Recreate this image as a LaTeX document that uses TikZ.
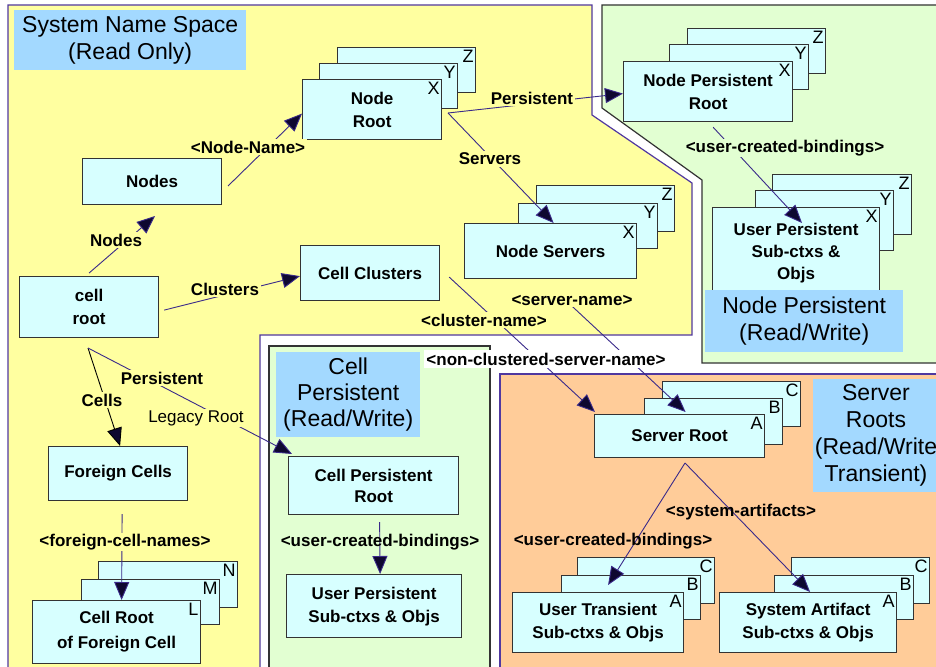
\documentclass[tikz,border=0pt]{standalone}
\usepackage{fontspec}
\setmainfont{Liberation Sans}
\usetikzlibrary{arrows.meta,calc}
\definecolor{yel}{HTML}{FFFFA0}
\definecolor{cy}{HTML}{D7FFFF}
\definecolor{lbl}{HTML}{A3D9FF}
\definecolor{grn}{HTML}{E2FFD2}
\definecolor{org}{HTML}{FFCC99}
\definecolor{pur}{HTML}{5038A0}
\definecolor{edge}{HTML}{3A2A8A}
\definecolor{bord}{HTML}{333333}
\definecolor{tipc}{HTML}{0E0830}
\begin{document}
\begin{tikzpicture}[x=1pt,y=-1pt,
  box/.style={draw=bord,fill=cy,line width=1.2pt,anchor=north west,inner sep=2pt,align=center,font=\fontsize{17}{23}\bfseries\selectfont},
  tag/.style={anchor=north east,inner sep=2.5pt,font=\fontsize{18}{20}\selectfont},
  conn/.style={draw=edge,line width=0.9pt,-{Triangle[length=18pt,width=15pt,fill=tipc]}},
  lab/.style={font=\fontsize{17}{20}\bfseries\selectfont,inner sep=1.5pt,fill=yel},
  title/.style={fill=lbl,anchor=north west,inner sep=0pt,align=center,font=\fontsize{23}{27}\selectfont}]
\useasboundingbox (0,0) rectangle (936,666);
\clip (0,0) rectangle (936,666);
\fill[white] (0,0) rectangle (936,666);
% regions
\draw[fill=yel,draw=pur,line width=1.2pt] (8,5) -- (592,5) -- (592,115) -- (692,183) -- (692,335) -- (260,335) -- (260,680) -- (8,680) -- cycle;
\draw[fill=grn,draw=bord,line width=1.2pt] (602,5) -- (950,5) -- (950,363) -- (702,363) -- (702,180) -- (602,108) -- cycle;
\draw[fill=grn,draw=bord,line width=1.2pt] (269,346) rectangle (490,680);
\draw[fill=org,draw=pur,line width=1.2pt] (500,374) rectangle (950,680);
% boxes
\node[box,minimum width=138pt,minimum height=45pt] (NRz) at (337,47) {};
\node[tag] at (NRz.north east) {Z};
\node[box,minimum width=138pt,minimum height=45pt] (NRy) at (319,63) {};
\node[tag] at (NRy.north east) {Y};
\node[box,minimum width=139pt,minimum height=60pt] (NR) at (302,79) {Node\\Root};
\node[tag] at (NR.north east) {X};
\node[box,minimum width=139pt,minimum height=46pt] (Nodes) at (82,158) {Nodes};
\node[box,minimum width=139pt,minimum height=61pt] (cellroot) at (19,276) {cell\\root};
\node[box,minimum width=139pt,minimum height=55pt] (CC) at (300,245) {Cell Clusters};
\node[box,minimum width=138pt,minimum height=46pt] (NSz) at (536,185) {};
\node[tag] at (NSz.north east) {Z};
\node[box,minimum width=139pt,minimum height=45pt] (NSy) at (518,203) {};
\node[tag] at (NSy.north east) {Y};
\node[box,minimum width=172pt,minimum height=55pt] (NS) at (464,223) {Node Servers};
\node[tag] at (NS.north east) {X};
\node[box,minimum width=138pt,minimum height=45pt] (NPz) at (687,28) {};
\node[tag] at (NPz.north east) {Z};
\node[box,minimum width=139pt,minimum height=45pt] (NPy) at (669,44) {};
\node[tag] at (NPy.north east) {Y};
\node[box,minimum width=169pt,minimum height=60pt] (NP) at (623,61) {Node Persistent\\Root};
\node[tag] at (NP.north east) {X};
\node[box,minimum width=139pt,minimum height=60pt] (UPz) at (772,174) {};
\node[tag] at (UPz.north east) {Z};
\node[box,minimum width=138pt,minimum height=60pt] (UPy) at (755,190) {};
\node[tag] at (UPy.north east) {Y};
\node[box,minimum width=167pt,minimum height=92pt,font=\fontsize{17}{22}\bfseries\selectfont] (UP) at (712,207) {User Persistent\\Sub-ctxs \&\\Objs};
\node[tag] at (UP.north east) {X};
\node[box,minimum width=139pt,minimum height=54pt] (FC) at (48,446) {Foreign Cells};
\node[box,minimum width=139pt,minimum height=46pt] (CFn) at (98,561) {};
\node[tag] at (CFn.north east) {N};
\node[box,minimum width=138pt,minimum height=45pt] (CFm) at (81,579) {};
\node[tag] at (CFm.north east) {M};
\node[box,minimum width=168pt,minimum height=63pt,font=\fontsize{17}{25}\bfseries\selectfont] (CF) at (32,600) {Cell Root\\of Foreign Cell};
\node[tag] at (CF.north east) {L};
\node[box,minimum width=170pt,minimum height=58pt,font=\fontsize{17}{21}\bfseries\selectfont] (CPR) at (288,456) {Cell Persistent\\Root};
\node[box,minimum width=175pt,minimum height=63pt] (UPC) at (286,574) {User Persistent\\Sub-ctxs \& Objs};
\node[box,minimum width=138pt,minimum height=45pt] (SRc) at (662,381) {};
\node[tag] at (SRc.north east) {C};
\node[box,minimum width=138pt,minimum height=46pt] (SRb) at (644,398) {};
\node[tag] at (SRb.north east) {B};
\node[box,minimum width=170pt,minimum height=43pt] (SR) at (594,414) {Server Root};
\node[tag] at (SR.north east) {A};
\node[box,minimum width=137pt,minimum height=46pt] (UTc) at (577,557) {};
\node[tag] at (UTc.north east) {C};
\node[box,minimum width=139pt,minimum height=44pt] (UTb) at (561,575) {};
\node[tag] at (UTb.north east) {B};
\node[box,minimum width=171pt,minimum height=60pt] (UT) at (512,592) {User Transient\\Sub-ctxs \& Objs};
\node[tag] at (UT.north east) {A};
\node[box,minimum width=138pt,minimum height=46pt] (SAc) at (791,557) {};
\node[tag] at (SAc.north east) {C};
\node[box,minimum width=139pt,minimum height=44pt] (SAb) at (774,575) {};
\node[tag] at (SAb.north east) {B};
\node[box,minimum width=177pt,minimum height=60pt] (SA) at (719,592) {System Artifact\\Sub-ctxs \& Objs};
\node[tag] at (SA.north east) {A};
% free coordinates
\coordinate (nodesTip) at (155,216);
\coordinate (nodesOut) at (228,186);
\coordinate (nrOut) at (448,113);
\coordinate (upTip) at (802,223);
\coordinate (srvStart) at (560,295);
\coordinate (crOut) at (88,348);
\coordinate (srOut) at (685,463);
% connectors
\draw[conn] ([yshift=3pt]cellroot.north) -- (nodesTip);
\draw[conn] (nodesOut) -- ([yshift=-4pt]NR.west);
\draw[conn] ([xshift=5pt,yshift=-3pt]cellroot.east) -- ([yshift=-3pt]CC.west);
\draw[conn] (nrOut) -- ([yshift=-2pt]NP.west);
\draw[conn] (nrOut) -- ([xshift=3pt]NS.north);
\draw[conn] ([xshift=5pt,yshift=-5pt]NP.south) -- (upTip);
\draw[conn] ([xshift=9pt,yshift=-4pt]CC.east) -- ([xshift=1pt,yshift=2pt]SR.north west);
\draw[conn] (srvStart) -- ([xshift=6pt,yshift=2pt]SR.north);
\draw[conn,draw=black] (crOut) -- ([xshift=2pt]FC.north);
\draw[conn] (crOut) -- ([xshift=4pt,yshift=2pt]CPR.north west);
\draw[conn] ([xshift=4pt,yshift=-13pt]FC.south) -- ([xshift=5pt]CF.north);
\draw[conn] ([xshift=6pt,yshift=-7pt]CPR.south) -- ([xshift=6pt]UPC.north);
\draw[conn] (srOut) -- ([xshift=10pt,yshift=7pt]UT.north);
\draw[conn] (srOut) -- ([xshift=2pt]SA.north);
% connector labels
\node[lab] at (116,240) {Nodes};
\node[lab] at (248,147) {<Node-Name>};
\node[lab] at (225,289) {Clusters};
\node[lab] at (532,98) {Persistent};
\node[lab] at (490,159) {Servers};
\node[lab,fill=grn] at (785,148) {<user-created-bindings>};
\node[lab] at (572,300) {<server-name>};
\node[lab] at (484,320) {<cluster-name>};
\node[lab,fill=white,inner sep=2.5pt] at (546,359) {<non-clustered-server-name>};
\node[lab] at (162,378) {Persistent};
\node[lab] at (102,400) {Cells};
\node[lab,font=\fontsize{17}{20}\selectfont] at (196,418) {Legacy Root};
\node[lab] at (125,542) {<foreign-cell-names>};
\node[lab,fill=none] at (380,542) {<user-created-bindings>};
\node[lab,fill=none] at (741,512) {<system-artifacts>};
\node[lab,fill=none] at (613,541) {<user-created-bindings>};
% region titles
\node[title,minimum width=232pt,minimum height=60pt] (tSys) at (14,10) {System Name Space\\(Read Only)};
\node[title,minimum width=198pt,minimum height=62pt] (tNP) at (705,290) {Node Persistent\\(Read/Write)};
\node[title,minimum width=144pt,minimum height=85pt,font=\fontsize{23}{26}\selectfont] (tCP) at (276,352) {Cell\\Persistent\\(Read/Write)};
\node[title,minimum width=126pt,minimum height=113pt] (tSR) at (813,379) {};
\node[align=center,font=\fontsize{23}{27}\selectfont,inner sep=0pt] at (876,435.5) {Server\\Roots\\(Read/Write\\Transient)};
\end{tikzpicture}
\end{document}
